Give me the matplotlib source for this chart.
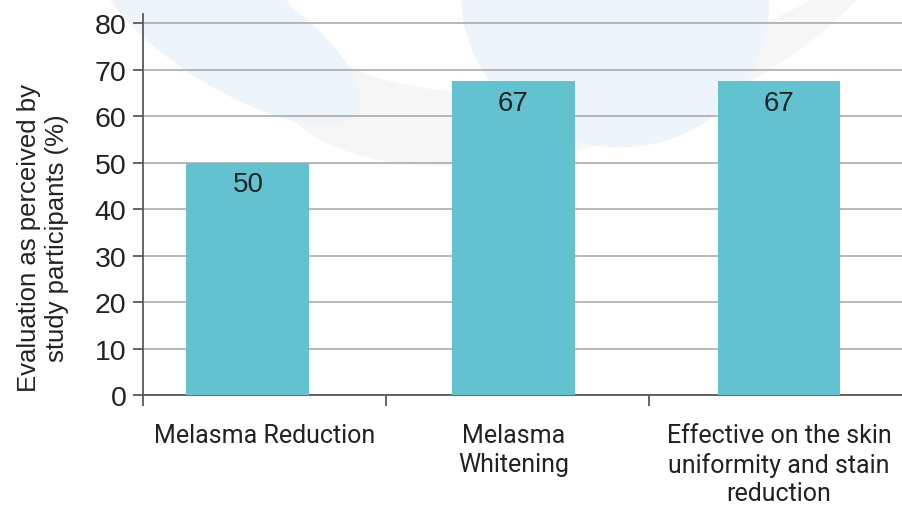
import matplotlib
matplotlib.use("Agg")
import matplotlib.pyplot as plt
import matplotlib.transforms as mtrans
from matplotlib.patches import Ellipse

plt.rcParams["font.family"] = ["Liberation Sans", "DejaVu Sans"]

categories = ["Melasma Reduction", "Melasma\nWhitening",
              "Effective on the skin\nuniformity and stain\nreduction"]
values = [50, 67.5, 67.5]
bar_labels = ["50", "67", "67"]
yticks = [0, 10, 20, 30, 40, 50, 60, 70, 80]

W, H = 903, 506
fig = plt.figure(figsize=(W / 100, H / 100), dpi=100)

# faint watermark shapes behind the chart (pixel coords, y from top)
def px_ellipse(cx, cy, w, h, ang, color):
    e = Ellipse((cx / 100, (H - cy) / 100), w / 100, h / 100, angle=ang,
                transform=fig.dpi_scale_trans, facecolor=color, edgecolor="none", zorder=0)
    fig.add_artist(e)

px_ellipse(590, -30, 680, 340, 20, "#f6f6f6")
px_ellipse(640, -120, 744, 363, 20, "white")
px_ellipse(228, 32, 305, 112, -32, "#edf5fb")
px_ellipse(615, 0, 310, 295, -20, "#edf5fb")

ax = fig.add_axes([143 / W, 1 - 396 / H, 1 - 143 / W, (396 - 15) / H])
ax.patch.set_alpha(0)

x = list(range(len(categories)))
bars = ax.bar(x, values, width=0.463, color="#63c2d0", zorder=3)
for b, lab in zip(bars, bar_labels):
    ax.annotate(lab, (b.get_x() + b.get_width() / 2, b.get_height()),
                xytext=(0, -6), textcoords="offset points", ha="center", va="top",
                fontsize=20, color="#222222", zorder=4)

ax.set_xlim(-0.395, 2.467)
ax.set_ylim(0, 82)
ax.set_yticks(yticks)
ax.yaxis.grid(True, color="#ababab", linewidth=1.2, zorder=1)
ax.set_axisbelow(True)

ax.set_xticks(x)
ax.set_xticklabels(categories, fontsize=18, family="Roboto", color="#222222",
                   linespacing=1.25)
ax.tick_params(axis="x", which="major", length=0, pad=20)
ax.set_xticks([-0.395, 0.52, 1.51], minor=True)
ax.tick_params(axis="x", which="minor", length=8, width=1.3, color="#595959")
ax.tick_params(axis="y", length=7, width=1.3, color="#595959", labelsize=20.5,
               labelcolor="#222222", pad=5)

# first category label sits a little right of its bar in the original
first = ax.get_xticklabels()[0]
first.set_transform(first.get_transform() +
                    mtrans.ScaledTranslation(0.17, 0, fig.dpi_scale_trans))

for s in ["top", "right"]:
    ax.spines[s].set_visible(False)
for s in ["left", "bottom"]:
    ax.spines[s].set_color("#595959")
    ax.spines[s].set_linewidth(1.3)

fig.text(43 / W, 1 - 238 / H, "Evaluation as perceived by\nstudy participants (%)",
         rotation=90, ha="center", va="center", multialignment="center",
         fontsize=18.5, color="#222222", linespacing=1.2)

fig.savefig("out.png", dpi=100)
